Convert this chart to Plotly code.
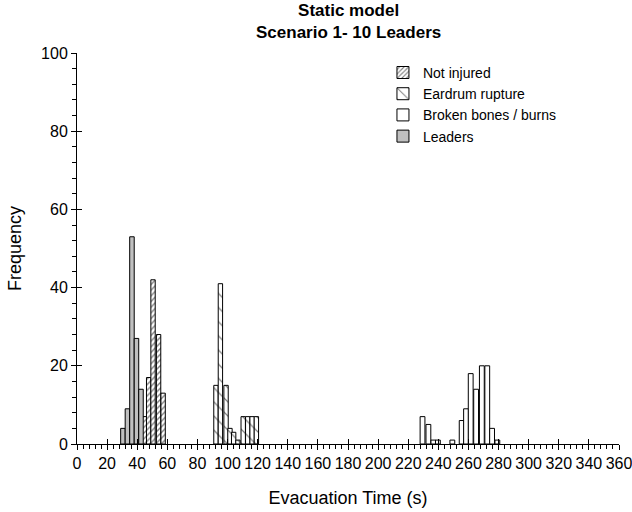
import plotly.graph_objects as go

# ---- data ----
not_injured_x = [44.8, 47.6, 50.5, 54.2, 57.2]
not_injured_y = [7, 17, 42, 28, 13]

eardrum_x = [92.3, 95.25, 99.0, 101.6, 104.05, 106.9, 110.4, 113.4, 116.3, 119.15]
eardrum_y = [15, 41, 15, 4, 3, 1, 7, 7, 7, 7]

broken_x = [229.5, 233.4, 236.7, 239.7, 249.3, 255.5, 258.4, 261.5, 265.1, 268.9, 272.5, 275.7, 279.2]
broken_y = [7, 5, 1, 1, 1, 6, 9, 18, 14, 20, 20, 4, 1]

leaders_x = [30.5, 33.5, 36.5, 39.5, 42.5]
leaders_y = [4, 9, 53, 27, 14]

x_ticks = list(range(0, 361, 20))
y_ticks = list(range(0, 101, 20))

FONT = "Arial, Liberation Sans, sans-serif"

fig = go.Figure()
fig.add_trace(go.Bar(
    x=not_injured_x, y=not_injured_y, name="Not injured", width=2.9,
    marker=dict(color="white", line=dict(color="black", width=1),
                pattern=dict(shape="/", size=4, solidity=0.35, fgcolor="black", bgcolor="white")),
))
fig.add_trace(go.Bar(
    x=eardrum_x, y=eardrum_y, name="Eardrum rupture", width=2.9,
    marker=dict(color="white", line=dict(color="black", width=1),
                pattern=dict(shape="\\", size=10, solidity=0.12, fgcolor="black", bgcolor="white")),
))
fig.add_trace(go.Bar(
    x=broken_x, y=broken_y, name="Broken bones / burns", width=3.2,
    marker=dict(color="white", line=dict(color="black", width=1)),
))
fig.add_trace(go.Bar(
    x=leaders_x, y=leaders_y, name="Leaders", width=3.0,
    marker=dict(color="#c0c0c0", line=dict(color="black", width=1)),
))
# helper trace so the overlay axes (inside half of the major ticks) get drawn
fig.add_trace(go.Scatter(x=[None], y=[None], xaxis="x2", yaxis="y2",
                         showlegend=False, hoverinfo="skip"))

fig.update_layout(
    width=632, height=512,
    margin=dict(l=77, r=13, t=53, b=68),
    paper_bgcolor="white", plot_bgcolor="white",
    barmode="overlay",
    font=dict(family=FONT, size=14, color="black"),
    legend=dict(x=0.5645, y=0.99, xanchor="left", yanchor="top",
                bgcolor="rgba(0,0,0,0)", font=dict(family=FONT, size=14),
                tracegroupgap=0),
    showlegend=True,
    annotations=[dict(text="<b>Static model<br>Scenario 1- 10 Leaders</b>",
                      x=0.5, xref="paper", xanchor="center",
                      y=1.0, yref="paper", yanchor="bottom", yshift=9,
                      showarrow=False, align="center",
                      font=dict(family=FONT, size=17, color="black"))],
    xaxis2=dict(overlaying="x", anchor="y", range=[0, 360], tickvals=x_ticks,
                showticklabels=False, ticks="inside", ticklen=5, tickcolor="black",
                showgrid=False, zeroline=False, showline=False, side="bottom",
                automargin=False),
    yaxis2=dict(overlaying="y", anchor="x", range=[0, 100], tickvals=y_ticks,
                showticklabels=False, ticks="inside", ticklen=5, tickcolor="black",
                showgrid=False, zeroline=False, showline=False, side="left",
                automargin=False),
)
fig.layout.xaxis.update(
    range=[0, 360], tickmode="array", tickvals=x_ticks, ticktext=[str(v) for v in x_ticks],
    showline=True, linecolor="black", linewidth=1, showgrid=False, zeroline=False,
    ticks="outside", ticklen=5, tickcolor="black",
    minor=dict(dtick=4, ticks="outside", ticklen=4, tickcolor="black", showgrid=False),
    title=dict(text="Evacuation Time (s)", font=dict(family=FONT, size=18), standoff=20),
    tickfont=dict(family=FONT, size=16), automargin=False, ticklabeloverflow="allow",
)
fig.layout.yaxis.update(
    range=[0, 100], tickmode="array", tickvals=y_ticks, ticktext=[str(v) for v in y_ticks],
    showline=True, linecolor="black", linewidth=1, showgrid=False, zeroline=False,
    ticks="outside", ticklen=5, tickcolor="black",
    minor=dict(dtick=4, ticks="outside", ticklen=4, tickcolor="black", showgrid=False),
    title=dict(text="Frequency", font=dict(family=FONT, size=18), standoff=14),
    tickfont=dict(family=FONT, size=16), automargin=False, ticklabeloverflow="allow",
)

fig.write_html("out.html", config={"displayModeBar": False},
               post_script="document.body.style.margin='0';")
